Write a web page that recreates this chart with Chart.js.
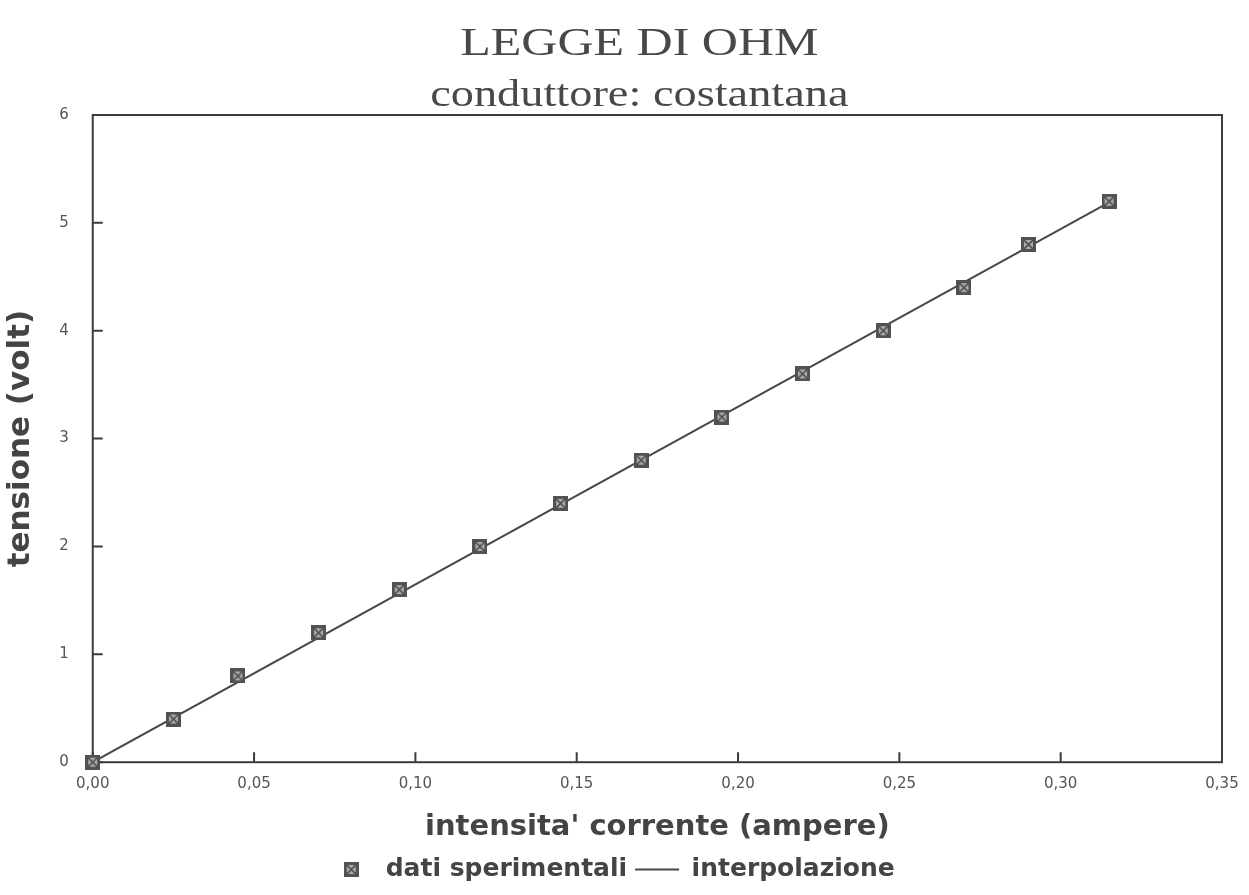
<!DOCTYPE html>
<html>
<head>
<meta charset="utf-8">
<script src="https://cdn.jsdelivr.net/npm/chart.js@4"></script>
<style>
  body { margin: 0; background: #fff; }
  #wrap { width: 1249px; height: 895px; }
</style>
</head>
<body>
<div id="wrap"><canvas id="ohmChart"></canvas></div>
<script>
// Titolo e dati
const TITLE_LINES = ['LEGGE DI OHM', 'conduttore: costantana'];
const X_LABEL = "intensita' corrente (ampere)";
const Y_LABEL = 'tensione (volt)';

// dati sperimentali
const CURRENT = [0, 0.025, 0.045, 0.07, 0.095, 0.12, 0.145, 0.17, 0.195, 0.22, 0.245, 0.27, 0.29, 0.315];
const VOLTAGE = [0, 0.4, 0.8, 1.2, 1.6, 2.0, 2.4, 2.8, 3.2, 3.6, 4.0, 4.4, 4.8, 5.2];

// retta di interpolazione (estremi)
const FIT_CURRENT = [0, 0.315];
const FIT_VOLTAGE = [0, 5.19];

const SERIES_NAMES = ['dati sperimentali', 'interpolazione'];

// Make the little crossed square used for the data points.
function makeMarker() {
  const c = document.createElement('canvas');
  c.width = 15; c.height = 15;
  const g = c.getContext('2d');
  g.fillStyle = '#525252';
  g.fillRect(0, 0, 15, 15);
  g.fillStyle = '#ababab';
  g.fillRect(3, 3, 9, 9);
  g.strokeStyle = '#4a4a4a';
  g.lineWidth = 1.6;
  g.beginPath();
  g.moveTo(3, 3); g.lineTo(12, 12);
  g.moveTo(12, 3); g.lineTo(3, 12);
  g.stroke();
  return c;
}
const marker = makeMarker();

function toPoints(xs, ys) {
  return xs.map((x, i) => ({ x: x, y: ys[i] }));
}

// Box around the plot with small ticks pointing inwards.
const frameAndTicks = {
  id: 'frameAndTicks',
  beforeDatasetsDraw(chart) {
    const { ctx, chartArea: a, scales } = chart;
    ctx.save();
    ctx.strokeStyle = '#3c3c3c';
    ctx.lineWidth = 2;
    ctx.strokeRect(a.left, a.top, a.right - a.left, a.bottom - a.top);
    ctx.beginPath();
    scales.x.ticks.forEach(t => {
      const px = scales.x.getPixelForValue(t.value);
      ctx.moveTo(px, a.bottom);
      ctx.lineTo(px, a.bottom - 10);
    });
    scales.y.ticks.forEach(t => {
      const py = scales.y.getPixelForValue(t.value);
      ctx.moveTo(a.left, py);
      ctx.lineTo(a.left + 10, py);
    });
    ctx.stroke();
    ctx.restore();
  }
};

// Serif title, a bit stretched like in the printed chart.
const wideTitle = {
  id: 'wideTitle',
  afterDraw(chart) {
    const { ctx, chartArea: a } = chart;
    const cx = (a.left + a.right) / 2 - 18;
    ctx.save();
    ctx.fillStyle = '#484848';
    ctx.textAlign = 'center';
    ctx.textBaseline = 'alphabetic';
    const sizes = [41, 38];
    const baselines = [55, 106];
    TITLE_LINES.forEach((line, i) => {
      ctx.save();
      ctx.translate(cx, baselines[i]);
      ctx.scale(1.22, 1);
      ctx.font = sizes[i] + 'px "Liberation Serif", "Times New Roman", serif';
      ctx.fillText(line, 0, 0);
      ctx.restore();
    });
    ctx.restore();
  }
};

const sansFont = '"DejaVu Sans", sans-serif';

new Chart(document.getElementById('ohmChart'), {
  type: 'scatter',
  data: {
    datasets: [{
      label: SERIES_NAMES[0],
      data: toPoints(CURRENT, VOLTAGE),
      pointStyle: marker,
      pointRadius: 7,
      clip: false,
      order: 0,
    }, {
      type: 'line',
      label: SERIES_NAMES[1],
      data: toPoints(FIT_CURRENT, FIT_VOLTAGE),
      borderColor: '#484848',
      borderWidth: 2,
      pointRadius: 0,
      pointStyle: 'line',
      showLine: true,
      fill: false,
      order: 1,
    }],
  },
  options: {
    responsive: true,
    maintainAspectRatio: false,
    animation: false,
    layout: {
      padding: { top: 115, right: 27, left: 2, bottom: 3 },
    },
    scales: {
      x: {
        type: 'linear',
        min: 0,
        max: 0.35,
        ticks: {
          stepSize: 0.05,
          padding: 5,
          color: '#555',
          font: { family: sansFont, size: 15 },
          callback: v => v.toFixed(2).replace('.', ','),
        },
        grid: { display: false },
        border: { display: false },
        title: {
          display: true,
          text: X_LABEL,
          color: '#444',
          padding: { top: 12, bottom: 4 },
          font: { family: sansFont, size: 29, weight: 'bold' },
        },
      },
      y: {
        min: 0,
        max: 6,
        ticks: {
          stepSize: 1,
          padding: 16,
          color: '#555',
          font: { family: sansFont, size: 15 },
        },
        grid: { display: false },
        border: { display: false },
        title: {
          display: true,
          text: Y_LABEL,
          color: '#444',
          padding: { top: 0, bottom: 4 },
          font: { family: sansFont, size: 31, weight: 'bold' },
        },
      },
    },
    plugins: {
      legend: {
        position: 'bottom',
        labels: {
          usePointStyle: true,
          pointStyleWidth: 44,
          color: '#444',
          padding: 8,
          font: { family: sansFont, size: 25, weight: 'bold' },
        },
      },
      tooltip: { enabled: false },
    },
  },
  plugins: [frameAndTicks, wideTitle],
});
</script>
</body>
</html>
